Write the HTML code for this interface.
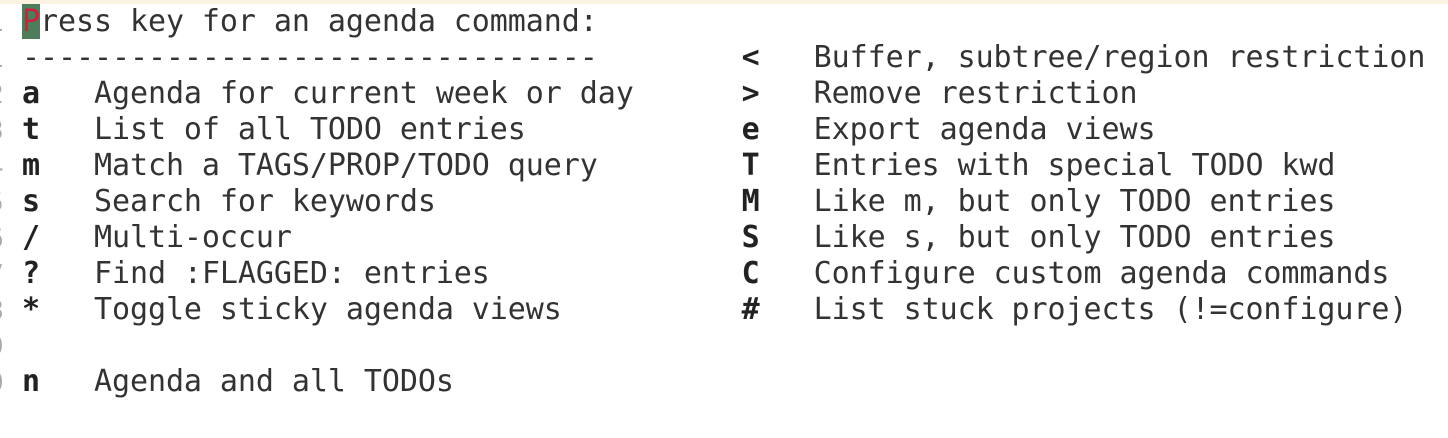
<!DOCTYPE html>
<html><head><style>
body{margin:0;width:1448px;height:438px;background:#fff;overflow:hidden;position:relative;font-family:"DejaVu Sans Mono","Liberation Mono",monospace;font-size:30px;color:#333;}
.top{position:absolute;left:0;top:0;width:1448px;height:4px;background:#fbf3df;}
.l{position:absolute;left:22px;white-space:pre;line-height:36px;height:36px;letter-spacing:-0.07px;}
.n{position:absolute;left:-12px;color:#aaa;white-space:pre;line-height:36px;font-size:26px;}
b{font-weight:bold;color:#222}
.cur{background:#4e7d5c;color:#d0213c;}
</style></head><body>
<div class="top"></div>
<div class="n" style="top:5px">1</div>
<div class="n" style="top:41px">1</div>
<div class="n" style="top:77px">2</div>
<div class="n" style="top:113px">3</div>
<div class="n" style="top:149px">4</div>
<div class="n" style="top:185px">5</div>
<div class="n" style="top:221px">6</div>
<div class="n" style="top:257px">7</div>
<div class="n" style="top:293px">8</div>
<div class="n" style="top:329px">9</div>
<div class="n" style="top:365px">0</div>
<div class="l" style="top:4px"><span class="cur">P</span>ress key for an agenda command:</div>
<div class="l" style="top:40px">--------------------------------        <b>&lt;</b>   Buffer, subtree/region restriction</div>
<div class="l" style="top:76px"><b>a</b>   Agenda for current week or day      <b>&gt;</b>   Remove restriction</div>
<div class="l" style="top:112px"><b>t</b>   List of all TODO entries            <b>e</b>   Export agenda views</div>
<div class="l" style="top:148px"><b>m</b>   Match a TAGS/PROP/TODO query        <b>T</b>   Entries with special TODO kwd</div>
<div class="l" style="top:184px"><b>s</b>   Search for keywords                 <b>M</b>   Like m, but only TODO entries</div>
<div class="l" style="top:220px"><b>/</b>   Multi-occur                         <b>S</b>   Like s, but only TODO entries</div>
<div class="l" style="top:256px"><b>?</b>   Find :FLAGGED: entries              <b>C</b>   Configure custom agenda commands</div>
<div class="l" style="top:292px"><b>*</b>   Toggle sticky agenda views          <b>#</b>   List stuck projects (!=configure)</div>
<div class="l" style="top:364px"><b>n</b>   Agenda and all TODOs</div>
</body></html>
